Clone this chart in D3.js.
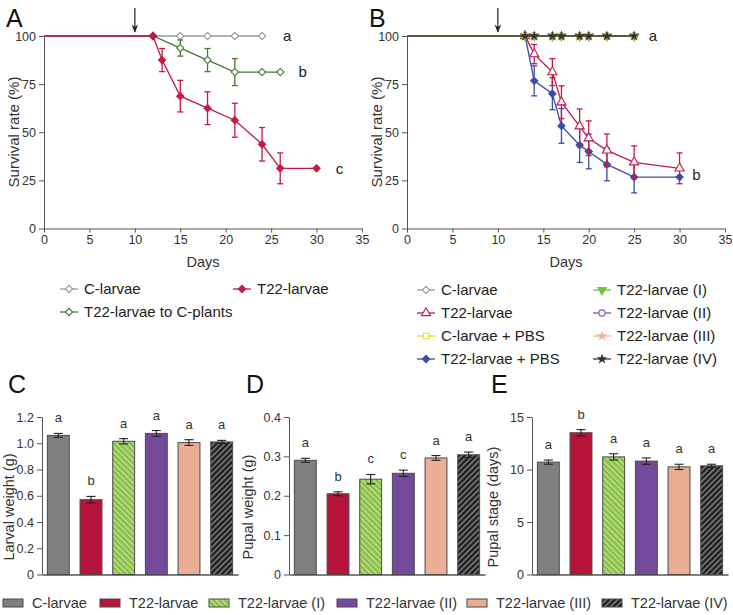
<!DOCTYPE html>
<html>
<head>
<meta charset="utf-8">
<script src="https://cdn.jsdelivr.net/npm/d3@7"></script>
<style>
  body { margin: 0; background: #fff; }
  svg { font-family: "Liberation Sans", Arial, sans-serif; }
  .axis text { fill: #333; }
  .axis path, .axis line { stroke: #555; }
</style>
</head>
<body>
<div id="fig"></div>
<script>
const width = 733;
const height = 615;

// panel A: survival after feeding
const daysCA = [0, 12, 15, 18, 21, 24];
const survCA = [100, 100, 100, 100, 100, 100];
const errCA = [0, 0, 0, 0, 0, 0];
const daysGreenA = [0, 12, 15, 18, 21, 24, 26];
const survGreenA = [100, 100, 93.75, 87.5, 81.25, 81.25, 81.25];
const errGreenA = [0, 0, 4.2, 6, 7, 0, 0];
const daysRedA = [0, 12, 13, 15, 18, 21, 24, 26, 30];
const survRedA = [100, 100, 87.5, 68.75, 62.5, 56.25, 43.75, 31.25, 31.25];
const errRedA = [0, 0, 6, 8.2, 8.5, 8.8, 8.7, 8, 0];

// panel B: survival with antibodies
const daysTopB = [0, 13, 14, 16, 17, 19, 20, 22, 25];
const survTopB = [100, 100, 100, 100, 100, 100, 100, 100, 100];
const daysB = [0, 13, 14, 16, 17, 19, 20, 22, 25, 30];
const survRedB = [100, 100, 90.6, 81.25, 65.6, 53.1, 46.9, 40.6, 34.4, 31.25];
const errRedB = [0, 0, 5, 7, 8.5, 9, 9, 8.5, 8.5, 8];
const survBlueB = [100, 100, 76.7, 70, 53.3, 43.3, 40, 33.3, 26.7, 26.7];
const errBlueB = [0, 0, 7.8, 8.3, 9, 9, 9, 8.5, 8.2, 0];

const dayTicks = [0, 5, 10, 15, 20, 25, 30, 35];
const survTicks = [0, 25, 50, 75, 100];

// bar panels
const groups = ["C-larvae", "T22-larvae", "T22-larvae (I)", "T22-larvae (II)", "T22-larvae (III)", "T22-larvae (IV)"];
const larvalWeight = [1.06, 0.57, 1.015, 1.075, 1.005, 1.01];
const larvalErr = [0.015, 0.025, 0.02, 0.022, 0.022, 0.012];
const larvalLetters = ["a", "b", "a", "a", "a", "a"];
const larvalTicks = ["0", "0.2", "0.4", "0.6", "0.8", "1.0", "1.2"];

const pupalWeight = [0.29, 0.205, 0.242, 0.257, 0.296, 0.304];
const pupalErr = [0.005, 0.005, 0.012, 0.008, 0.006, 0.007];
const pupalLetters = ["a", "b", "c", "c", "a", "a"];
const pupalTicks = ["0", "0.1", "0.2", "0.3", "0.4"];

const pupalStage = [10.7, 13.5, 11.2, 10.8, 10.25, 10.35];
const stageErr = [0.2, 0.3, 0.3, 0.3, 0.25, 0.15];
const stageLetters = ["a", "b", "a", "a", "a", "a"];
const stageTicks = ["0", "5", "10", "15"];

const col = {
    grey: "#9a9a9a", green: "#467a35", red: "#c41a45", blue: "#3b4ea3",
    yellow: "#e6df1f", lgreen: "#7cbf40", purple: "#7e55a8", peach: "#f0b49a", black: "#222"
};
const barFill = ["#7f7f7f", "#b7143c", "url(#hatchGreen)", "#744a9c", "#e9ae93", "url(#hatchBlack)"];

const svg = d3.select("#fig").append("svg")
    .attr("width", width)
    .attr("height", height);

const defs = svg.append("defs");
function hatch(id, bg, fg, angle) {
    const p = defs.append("pattern")
        .attr("id", id)
        .attr("patternUnits", "userSpaceOnUse")
        .attr("width", 4).attr("height", 4)
        .attr("patternTransform", "rotate(" + angle + ")");
    p.append("rect").attr("width", 4).attr("height", 4).attr("fill", bg);
    p.append("rect").attr("width", 1.4).attr("height", 4).attr("fill", fg);
}
hatch("hatchGreen", "#86bd45", "#c6e29a", -45);
hatch("hatchBlack", "#1e1e1e", "#8a8a8a", 45);
defs.append("marker")
    .attr("id", "arrow")
    .attr("viewBox", "0 0 10 10")
    .attr("refX", 9).attr("refY", 5)
    .attr("markerWidth", 7).attr("markerHeight", 7)
    .attr("orient", "auto")
  .append("path")
    .attr("d", "M0,1 L10,5 L0,9 L3,5 Z")
    .attr("fill", "#222");

// marker helper
function symbolPath(kind) {
    const map = {
        diamond: d3.symbol(d3.symbolSquare, 26),
        square: d3.symbol(d3.symbolSquare, 30),
        triangle: d3.symbol(d3.symbolTriangle, 36),
        down: d3.symbol(d3.symbolTriangle, 32),
        circle: d3.symbol(d3.symbolCircle, 30),
        star: d3.symbol(d3.symbolStar, 16)
    };
    return map[kind]();
}
function rotFor(kind) {
    if (kind === "diamond") return 45;
    if (kind === "down") return 180;
    return 0;
}

function drawSurvival(x0, x1, labelLetter, series, letters) {
    const g = svg.append("g");
    const x = d3.scaleLinear().domain([0, 35]).range([x0, x1]);
    const y = d3.scaleLinear().domain([0, 100]).range([228.5, 36]);

    g.append("g").attr("class", "axis")
        .attr("transform", "translate(0," + y(0) + ")")
        .call(d3.axisBottom(x).tickValues(dayTicks).tickSize(4).tickSizeOuter(0).tickPadding(3))
        .attr("font-size", "12.5px");
    g.append("g").attr("class", "axis")
        .attr("transform", "translate(" + x0 + ",0)")
        .call(d3.axisLeft(y).tickValues(survTicks).tickSize(5).tickSizeOuter(0).tickPadding(3))
        .attr("font-size", "12.5px");

    g.append("text").attr("x", (x0 + x1) / 2).attr("y", 267)
        .attr("text-anchor", "middle").attr("font-size", "14.5px").attr("fill", "#333").text("Days");
    g.append("text")
        .attr("transform", "translate(" + (x0 - 25) + ",132) rotate(-90)")
        .attr("text-anchor", "middle").attr("font-size", "15px").attr("fill", "#333")
        .text("Survival rate (%)");
    g.append("text").attr("x", x0 - 38).attr("y", 27)
        .attr("font-size", "25px").attr("fill", "#111").text(labelLetter);

    // infestation arrow at day 10
    g.append("line")
        .attr("x1", x(10)).attr("x2", x(10))
        .attr("y1", 8).attr("y2", 32)
        .attr("stroke", "#222").attr("stroke-width", 1.2)
        .attr("marker-end", "url(#arrow)");

    const line = d3.line().x(d => x(d.day)).y(d => y(d.val));
    series.forEach(s => {
        const pts = s.days.map((d, i) => ({day: d, val: s.vals[i], err: s.err ? s.err[i] : 0}));
        g.append("path").datum(pts)
            .attr("d", line).attr("fill", "none")
            .attr("stroke", s.color).attr("stroke-width", 1.3);
        const eb = g.append("g").attr("stroke", s.color).attr("stroke-width", 1.3);
        pts.filter(p => p.err > 0).forEach(p => {
            eb.append("line").attr("x1", x(p.day)).attr("x2", x(p.day))
                .attr("y1", y(p.val - p.err)).attr("y2", y(p.val + p.err));
            [p.val - p.err, p.val + p.err].forEach(v => {
                eb.append("line").attr("x1", x(p.day) - 3).attr("x2", x(p.day) + 3)
                    .attr("y1", y(v)).attr("y2", y(v));
            });
        });
        g.selectAll(null).data(pts.filter(p => p.day > 0)).enter()
            .append("path")
            .attr("d", symbolPath(s.shape))
            .attr("transform", p => "translate(" + x(p.day) + "," + y(p.val) + ") rotate(" + rotFor(s.shape) + ")")
            .attr("fill", s.filled ? s.color : "#fff")
            .attr("stroke", s.color).attr("stroke-width", 1.1);
    });

    letters.forEach(l => {
        g.append("text").attr("x", x(l.day)).attr("y", y(l.val))
            .attr("dy", "0.35em").attr("font-size", "15px").attr("fill", "#222").text(l.t);
    });
}

drawSurvival(44, 362, "A", [
    {days: daysCA, vals: survCA, err: errCA, color: col.grey, shape: "diamond", filled: false},
    {days: daysGreenA, vals: survGreenA, err: errGreenA, color: col.green, shape: "diamond", filled: false},
    {days: daysRedA, vals: survRedA, err: errRedA, color: col.red, shape: "diamond", filled: true}
], [{t: "a", day: 26.3, val: 100}, {t: "b", day: 28, val: 81.25}, {t: "c", day: 32.1, val: 31.25}]);

drawSurvival(407, 725, "B", [
    {days: daysB, vals: survBlueB, err: errBlueB, color: col.blue, shape: "diamond", filled: true},
    {days: daysB, vals: survRedB, err: errRedB, color: col.red, shape: "triangle", filled: false},
    {days: daysTopB, vals: survTopB, color: col.grey, shape: "diamond", filled: false},
    {days: daysTopB, vals: survTopB, color: col.lgreen, shape: "down", filled: true},
    {days: daysTopB, vals: survTopB, color: col.purple, shape: "circle", filled: false},
    {days: daysTopB, vals: survTopB, color: col.peach, shape: "star", filled: true},
    {days: daysTopB, vals: survTopB, color: col.yellow, shape: "square", filled: false},
    {days: daysTopB, vals: survTopB, color: "#333", shape: "star", filled: true}
], [{t: "a", day: 26.6, val: 100}, {t: "b", day: 31.4, val: 28}]);

// line legends
function legendItem(xs, ys, label, color, shape, filled) {
    const g = svg.append("g");
    g.append("line").attr("x1", xs).attr("x2", xs + 18).attr("y1", ys).attr("y2", ys)
        .attr("stroke", color).attr("stroke-width", 1.3);
    g.append("path").attr("d", symbolPath(shape))
        .attr("transform", "translate(" + (xs + 9) + "," + ys + ") rotate(" + rotFor(shape) + ")")
        .attr("fill", filled ? color : "#fff").attr("stroke", color).attr("stroke-width", 1.1);
    g.append("text").attr("x", xs + 24).attr("y", ys).attr("dy", "0.36em")
        .attr("font-size", "15px").attr("fill", "#222").text(label);
}
legendItem(60, 289, "C-larvae", col.grey, "diamond", false);
legendItem(233, 289, "T22-larvae", col.red, "diamond", true);
legendItem(60, 312, "T22-larvae to C-plants", col.green, "diamond", false);

legendItem(417, 290, "C-larvae", col.grey, "diamond", false);
legendItem(417, 313, "T22-larvae", col.red, "triangle", false);
legendItem(417, 336, "C-larvae + PBS", col.yellow, "square", false);
legendItem(417, 359, "T22-larvae + PBS", col.blue, "diamond", true);
legendItem(593, 290, "T22-larvae (I)", col.lgreen, "down", true);
legendItem(593, 313, "T22-larvae (II)", col.purple, "circle", false);
legendItem(593, 336, "T22-larvae (III)", col.peach, "star", true);
legendItem(593, 359, "T22-larvae (IV)", "#333", "star", true);

// bar panels
function drawBars(x0, x1, ymax, vals, errs, letters, ticks, title, panel, titleOff, panelOff) {
    const g = svg.append("g");
    const x = d3.scaleBand().domain(groups).range([x0, x1]).paddingInner(0.33).paddingOuter(0.165);
    const y = d3.scaleLinear().domain([0, ymax]).range([574.5, 417]);
    const tickVals = ticks.map(Number);

    g.append("g").attr("class", "axis")
        .attr("transform", "translate(" + x0 + ",0)")
        .call(d3.axisLeft(y).tickValues(tickVals).tickFormat((d, i) => ticks[i]).tickSize(5).tickSizeOuter(0).tickPadding(3))
        .attr("font-size", "12.5px");
    g.append("g").attr("class", "axis")
        .attr("transform", "translate(0," + y(0) + ")")
        .call(d3.axisBottom(x).tickSize(0).tickFormat(""))
        .select(".domain").attr("stroke", "#777").attr("stroke-width", 1.5);

    g.selectAll(".bar").data(groups).enter()
        .append("rect")
        .attr("x", d => x(d))
        .attr("y", (d, i) => y(vals[i]))
        .attr("width", x.bandwidth())
        .attr("height", (d, i) => y(0) - y(vals[i]))
        .attr("fill", (d, i) => barFill[i])
        .attr("stroke", "#4a4a4a").attr("stroke-width", 1);

    groups.forEach((gname, i) => {
        const cx = x(gname) + x.bandwidth() / 2;
        const lo = y(vals[i] - errs[i]), hi = y(vals[i] + errs[i]);
        g.append("line").attr("x1", cx).attr("x2", cx).attr("y1", lo).attr("y2", hi)
            .attr("stroke", "#222").attr("stroke-width", 1.1);
        [lo, hi].forEach(yy => {
            g.append("line").attr("x1", cx - 4.5).attr("x2", cx + 4.5).attr("y1", yy).attr("y2", yy)
                .attr("stroke", "#222").attr("stroke-width", 1.1);
        });
        g.append("text").attr("x", cx).attr("y", hi - 11)
            .attr("text-anchor", "middle").attr("font-size", "13px").attr("fill", "#333")
            .text(letters[i]);
    });

    g.append("text")
        .attr("transform", "translate(" + (x0 - titleOff) + ",507) rotate(-90)")
        .attr("text-anchor", "middle").attr("font-size", "14.5px").attr("fill", "#333")
        .text(title);
    g.append("text").attr("x", x0 - panelOff).attr("y", 393)
        .attr("font-size", "25px").attr("fill", "#111").text(panel);
}

drawBars(42, 238, 1.2, larvalWeight, larvalErr, larvalLetters, larvalTicks, "Larval weight (g)", "C", 28, 34);
drawBars(289, 485, 0.4, pupalWeight, pupalErr, pupalLetters, pupalTicks, "Pupal weight (g)", "D", 36, 43);
drawBars(532, 728, 15, pupalStage, stageErr, stageLetters, stageTicks, "Pupal stage (days)", "E", 34, 41);

// bottom legend
const legX = [3, 100, 209, 337, 467, 602];
const leg = svg.append("g");
groups.forEach((gname, i) => {
    leg.append("rect").attr("x", legX[i]).attr("y", 599).attr("width", 20).attr("height", 8)
        .attr("fill", barFill[i]).attr("stroke", "#4a4a4a").attr("stroke-width", 1);
    leg.append("text").attr("x", legX[i] + 29).attr("y", 608)
        .attr("font-size", "14.5px").attr("fill", "#333").text(gname);
});
</script>
</body>
</html>
